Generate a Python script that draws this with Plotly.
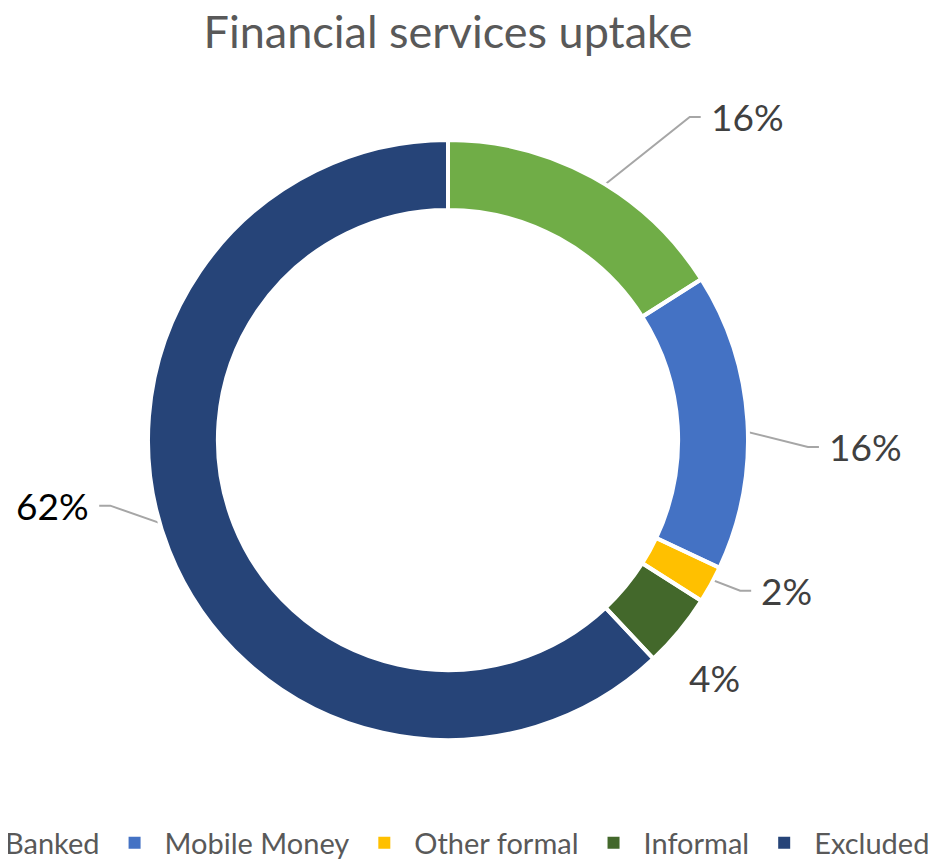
import math
import plotly.graph_objects as go

# data
labels = ["Banked", "Mobile Money", "Other formal", "Informal", "Excluded"]
values = [16, 16, 2, 4, 62]
colors = ["#70AD47", "#4472C4", "#FFC000", "#43682B", "#264478"]

# the page body adds an 8px margin and the window is 936 wide; the figure is
# made a bit wider than the window so the one-row legend can run off both
# edges like in the original (the extra part on the right is never visible)
W, H = 1010, 860
OFF = 8
B = 40             # bottom margin reserved for the legend
PH = H - B         # plot area height
CX, CY, R = 448 - OFF, 440 - OFF, 300  # pie centre and outer radius
HOLE = 0.767

# label placement: (elbow radius, elbow angle offset from mid angle, leader?)
label_style = {
    "Banked": (1.345, 8.0, True),
    "Mobile Money": (1.2, 4.7, True),
    "Other formal": (1.096, -1.5, True),
    "Informal": (1.19, 2.0, False),
    "Excluded": (1.147, 10.6, True),
}
label_color = {"Excluded": "#000000"}


def to_px(r, ang):
    a = math.radians(ang)
    return CX + r * R * math.sin(a), CY - r * R * math.cos(a)


pie_domain = dict(x=[(CX - R) / W, (CX + R) / W], y=[(PH - CY - R) / PH, (PH - CY + R) / PH])

fig = go.Figure()
# filled ring (also feeds the legend, so its swatches stay full size)
fig.add_trace(go.Pie(
    labels=labels, values=values, hole=HOLE, sort=False, direction="clockwise",
    rotation=0, marker=dict(colors=colors, line=dict(width=0)),
    textinfo="none", hoverinfo="label+percent", domain=pie_domain,
))
# white separators drawn on top
fig.add_trace(go.Pie(
    labels=labels, values=values, hole=HOLE, sort=False, direction="clockwise",
    rotation=0, marker=dict(colors=["rgba(0,0,0,0)"] * len(values),
                            line=dict(color="white", width=4)),
    textinfo="none", hoverinfo="skip", showlegend=False, domain=pie_domain,
))

total = sum(values)
annotations = []
cum = 0
for lab, v in zip(labels, values):
    mid = (cum + v / 2) / total * 360
    cum += v
    pct = f"{round(v / total * 100)}%"
    r_el, da, leader = label_style[lab]
    col = label_color.get(lab, "#404040")
    if leader:
        sx, sy = to_px((1 + HOLE) / 2, mid)
        ex, ey = to_px(r_el, mid + da)
        side = 1 if ex > CX else -1
        tx = ex + side * 11
        fig.add_trace(go.Scatter(x=[sx, ex, tx], y=[sy, ey, ey], mode="lines",
                                 line=dict(color="#A6A6A6", width=2),
                                 showlegend=False, hoverinfo="skip"))
        annotations.append(dict(x=tx + side * 8, y=ey, xref="x", yref="y", text=pct,
                                showarrow=False, xanchor="left" if side > 0 else "right",
                                yanchor="middle", font=dict(size=37, color=col)))
    else:
        lx, ly = to_px(r_el, mid + da)
        annotations.append(dict(x=lx, y=ly, xref="x", yref="y", text=pct,
                                showarrow=False, xanchor="center", yanchor="middle",
                                font=dict(size=37, color=col)))

fig.update_layout(
    width=W, height=H,
    margin=dict(l=0, r=0, t=0, b=B, autoexpand=False),
    paper_bgcolor="white", plot_bgcolor="rgba(0,0,0,0)",
    font=dict(family="Lato, Open Sans, sans-serif", color="#595959"),
    title=dict(text="Financial services uptake", x=CX / W, xanchor="center",
               y=1 - 24 / H, yanchor="middle", font=dict(size=45, color="#595959")),
    xaxis=dict(range=[0, W], visible=False, fixedrange=True),
    yaxis=dict(range=[PH, 0], visible=False, fixedrange=True),
    showlegend=True,
    legend=dict(orientation="h", x=-63 / W, xanchor="left", y=(PH - 835) / PH,
                yanchor="middle", itemwidth=50,
                font=dict(size=29, color="#595959"), itemclick=False),
    annotations=annotations,
)

fig.write_html("out.html")
